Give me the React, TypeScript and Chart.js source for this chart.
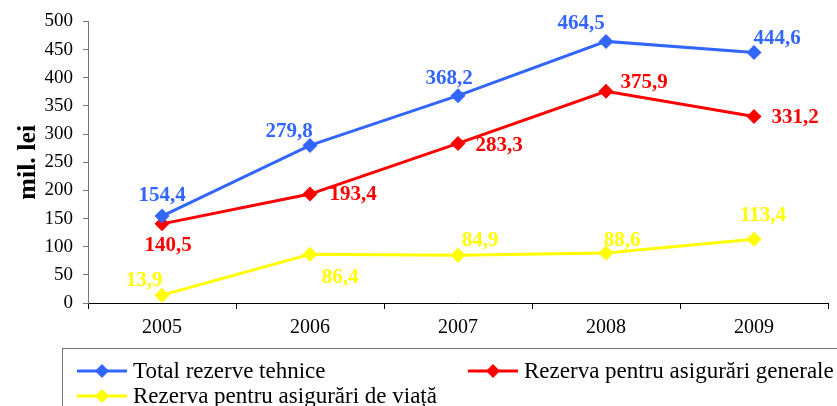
import React, { useEffect, useRef } from "react";
import { Chart, registerables } from "chart.js";

Chart.register(...registerables);

const categories = ["2005", "2006", "2007", "2008", "2009"];
const totalRezerve = [154.4, 279.8, 368.2, 464.5, 444.6];
const rezervaGenerale = [140.5, 193.4, 283.3, 375.9, 331.2];
const rezervaViata = [13.9, 86.4, 84.9, 88.6, 113.4];
const seriesNames = [
  "Total rezerve tehnice",
  "Rezerva pentru asigurări generale",
  "Rezerva pentru asigurări de viață",
];
const yTicksMax = 500;
const yTicksStep = 50;

const BLUE = "#3366FF";
const RED = "#FF0000";
const YELLOW = "#FFFF00";
const SERIF = "'Liberation Serif', 'Times New Roman', serif";

// label offsets (text center relative to point)
const labelOffsets: [number, number][][] = [
  [[0, -20], [-21, -14], [-9, -17], [-25, -18], [23, -14]],
  [[6, 22], [43, 1], [41, 2], [38, -9], [41, 1]],
  [[-18, -15], [30, 23], [22, -15], [16, -13], [9, -24]],
];

const fmt = (v: number) => v.toFixed(1).replace(".", ",");

const dataLabelPlugin = {
  id: "dataLabels",
  afterDatasetsDraw(chart: any) {
    const ctx = chart.ctx;
    ctx.save();
    ctx.font = `bold 21px ${SERIF}`;
    ctx.textAlign = "center";
    ctx.textBaseline = "middle";
    chart.data.datasets.forEach((ds: any, di: number) => {
      const meta = chart.getDatasetMeta(di);
      ctx.fillStyle = ds.borderColor;
      meta.data.forEach((pt: any, i: number) => {
        const [dx, dy] = labelOffsets[di][i];
        ctx.fillText(fmt(ds.data[i]), pt.x + dx, pt.y + dy);
      });
    });
    ctx.restore();
  },
};

const legendPlugin = {
  id: "customLegend",
  afterDraw(chart: any) {
    const ctx = chart.ctx;
    ctx.save();
    ctx.strokeStyle = "#777";
    ctx.lineWidth = 1;
    ctx.strokeRect(62.5, 348.5, 800, 80);
    const items = [
      { x: 77, y: 371, color: BLUE, text: seriesNames[0] },
      { x: 468, y: 371, color: RED, text: seriesNames[1] },
      { x: 77, y: 396, color: YELLOW, text: seriesNames[2] },
    ];
    ctx.font = `23px ${SERIF}`;
    ctx.textBaseline = "middle";
    ctx.textAlign = "left";
    items.forEach((it) => {
      ctx.strokeStyle = it.color;
      ctx.fillStyle = it.color;
      ctx.lineWidth = 3;
      ctx.beginPath();
      ctx.moveTo(it.x, it.y);
      ctx.lineTo(it.x + 50, it.y);
      ctx.stroke();
      const cx = it.x + 25;
      const r = 7;
      ctx.beginPath();
      ctx.moveTo(cx - r, it.y);
      ctx.lineTo(cx, it.y - r);
      ctx.lineTo(cx + r, it.y);
      ctx.lineTo(cx, it.y + r);
      ctx.closePath();
      ctx.fill();
      ctx.fillStyle = "#000";
      ctx.fillText(it.text, it.x + 56, it.y + 1);
    });
    ctx.restore();
  },
};

export default function App() {
  const ref = useRef<HTMLCanvasElement>(null);
  useEffect(() => {
    document.body.style.margin = "0";
    const mk = (label: string, data: number[], color: string) => ({
      label,
      data,
      borderColor: color,
      backgroundColor: color,
      borderWidth: 3,
      pointStyle: "rectRot",
      pointRadius: 7.5,
      pointBackgroundColor: color,
      pointBorderColor: color,
      pointBorderWidth: 0,
      tension: 0,
    });
    const chart = new Chart(ref.current!, {
      type: "line",
      data: {
        labels: categories,
        datasets: [
          mk(seriesNames[0], totalRezerve, BLUE),
          mk(seriesNames[1], rezervaGenerale, RED),
          mk(seriesNames[2], rezervaViata, YELLOW),
        ],
      },
      options: {
        animation: false,
        responsive: false,
        maintainAspectRatio: false,
        layout: { padding: { top: 19, right: 9, left: 0, bottom: 0 } },
        plugins: {
          legend: { display: false },
          tooltip: { enabled: false },
        },
        scales: {
          x: {
            offset: true,
            grid: {
              offset: true,
              drawOnChartArea: false,
              tickLength: 6,
              color: "#000",
              tickColor: "#000",
            },
            border: { color: "#000", width: 1 },
            ticks: {
              color: "#000",
              font: { family: SERIF, size: 20 },
              padding: 7,
              maxRotation: 0,
            },
            afterFit(scale: any) {
              scale.height = 103;
            },
          },
          y: {
            min: 0,
            max: yTicksMax,
            ticks: {
              stepSize: yTicksStep,
              color: "#000",
              font: { family: SERIF, size: 19 },
              padding: 10,
            },
            grid: {
              drawOnChartArea: false,
              tickLength: 5,
              tickColor: "#777",
            },
            border: { color: "#777", width: 1 },
            title: {
              display: true,
              text: "mil. lei",
              color: "#000",
              font: { family: SERIF, size: 26, weight: "bold" },
              padding: { top: 13, bottom: 0 },
            },
            afterFit(scale: any) {
              scale.width = 88;
            },
          },
        },
      },
      plugins: [dataLabelPlugin, legendPlugin],
    });
    return () => chart.destroy();
  }, []);
  return <canvas ref={ref} width={837} height={406} style={{ display: "block" }} />;
}
